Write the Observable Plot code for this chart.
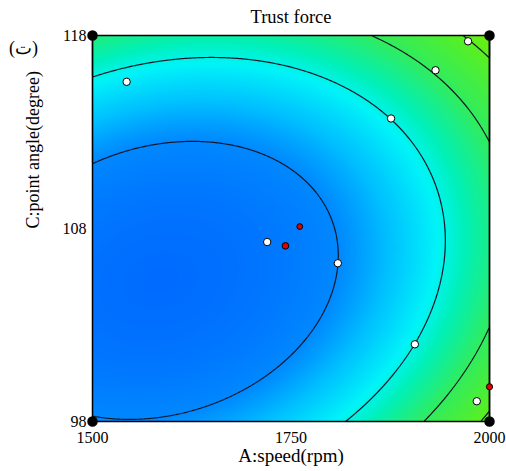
<!DOCTYPE html>
<html>
<head>
<meta charset="utf-8">
<script src="https://cdn.jsdelivr.net/npm/d3@7"></script>
<script src="https://cdn.jsdelivr.net/npm/@observablehq/plot@0.6"></script>
<style>
  html, body { margin: 0; padding: 0; background: #fff; }
</style>
</head>
<body>
<div id="chart"></div>
<script>
// ---- data ----
const speedDomain = [1500, 2000];          // A: speed (rpm)
const angleDomain = [98, 118];             // C: point angle (degree)
const speedTicks = [1500, 1750, 2000];
const angleTicks = [98, 108, 118];

// quadratic response surface in coded units u=(A-1750)/250, v=(C-108)/10
// terms: [u², v², u·v, u, v, 1]  (fitted to the contour lines of the picture)
const surfaceCoef = [1, 1.5387, -0.4418, 1.1918, 0.5378, -0.3102];
const contourLevels = [0, 1.2148, 2.2325, 3.1661];

// colour stops of the surface
const colorDomain = [-0.78, 0, 0.5, 1.1, 1.5, 2.2, 3.2, 3.8];
const colorRange = ["#006cff", "#0088ff", "#00c0ff", "#00f4f8", "#00f0b8", "#30ec60", "#5cf01c", "#80f000"];

// design points
const whiteSpeed = [1543, 1876, 1932, 1973, 1720, 1809, 1906, 1984];
const whiteAngle = [115.6, 113.7, 116.2, 117.7, 107.3, 106.2, 102.0, 99.05];
const redSpeed = [1761, 1743, 2000];
const redAngle = [108.1, 107.1, 99.8];
const redSize = [3.5, 4.6, 4];
const cornerSpeed = [1500, 1500, 2000, 2000];
const cornerAngle = [98, 118, 98, 118];

const title = "Trust force";
const xLabel = "A:speed(rpm)";
const yLabel = "C:point angle(degree)";
const panelTag = "(ت)";

// ---- build ----
const thrust = (A, C) => {
  const u = (A - 1750) / 250, v = (C - 108) / 10;
  const [a, b, c, d, e, g] = surfaceCoef;
  return a * u * u + b * v * v + c * u * v + d * u + e * v + g;
};

const whitePts = whiteSpeed.map((a, i) => ({A: a, C: whiteAngle[i]}));
const redPts = redSpeed.map((a, i) => ({A: a, C: redAngle[i], r: redSize[i]}));
const cornerPts = cornerSpeed.map((a, i) => ({A: a, C: cornerAngle[i]}));

const bounds = {x1: speedDomain[0], x2: speedDomain[1], y1: angleDomain[0], y2: angleDomain[1]};

const chart = Plot.plot({
  width: 506,
  height: 471,
  marginLeft: 92,
  marginRight: 17,
  marginTop: 35,
  marginBottom: 50,
  style: {fontFamily: "Liberation Serif, serif", fontSize: "16px", background: "#fff", color: "#000"},
  x: {domain: speedDomain},
  y: {domain: angleDomain},
  color: {type: "linear", domain: colorDomain, range: colorRange, interpolate: "rgb", clamp: true},
  marks: [
    Plot.raster({fill: thrust, ...bounds, pixelSize: 1}),
    Plot.contour({value: thrust, ...bounds, pixelSize: 1, thresholds: contourLevels, fill: "none", stroke: "#101828", strokeWidth: 1.2}),
    Plot.frame({stroke: "#000", strokeWidth: 1.5}),
    Plot.axisX({ticks: speedTicks, tickFormat: d => String(d), tickSize: 0, tickPadding: 10, label: null, fontSize: 16}),
    Plot.axisY({ticks: angleTicks, tickFormat: d => String(d), tickSize: 0, tickPadding: 6, label: null, fontSize: 16}),
    Plot.dot(whitePts, {x: "A", y: "C", r: 3.7, fill: "#fff", stroke: "#000", strokeWidth: 1}),
    Plot.dot(redPts, {x: "A", y: "C", r: d => d.r, fill: "#e00000", stroke: "#000", strokeWidth: 1}),
    Plot.dot(cornerPts, {x: "A", y: "C", r: 4.5, fill: "#000", stroke: "#000"}),
    Plot.text([title], {text: d => d, frameAnchor: "top", dy: -18, lineAnchor: "middle", fontSize: 18.5}),
    Plot.text([xLabel], {text: d => d, frameAnchor: "bottom", dy: 34, lineAnchor: "middle", fontSize: 19}),
    Plot.text([yLabel], {text: d => d, frameAnchor: "left", dx: -59, rotate: -90, lineAnchor: "middle", fontSize: 18}),
    Plot.text([panelTag], {text: d => d, frameAnchor: "top-left", dx: -69, dy: 13, lineAnchor: "middle", textAnchor: "middle", fontSize: 18})
  ]
});
document.getElementById("chart").appendChild(chart);
</script>
</body>
</html>
